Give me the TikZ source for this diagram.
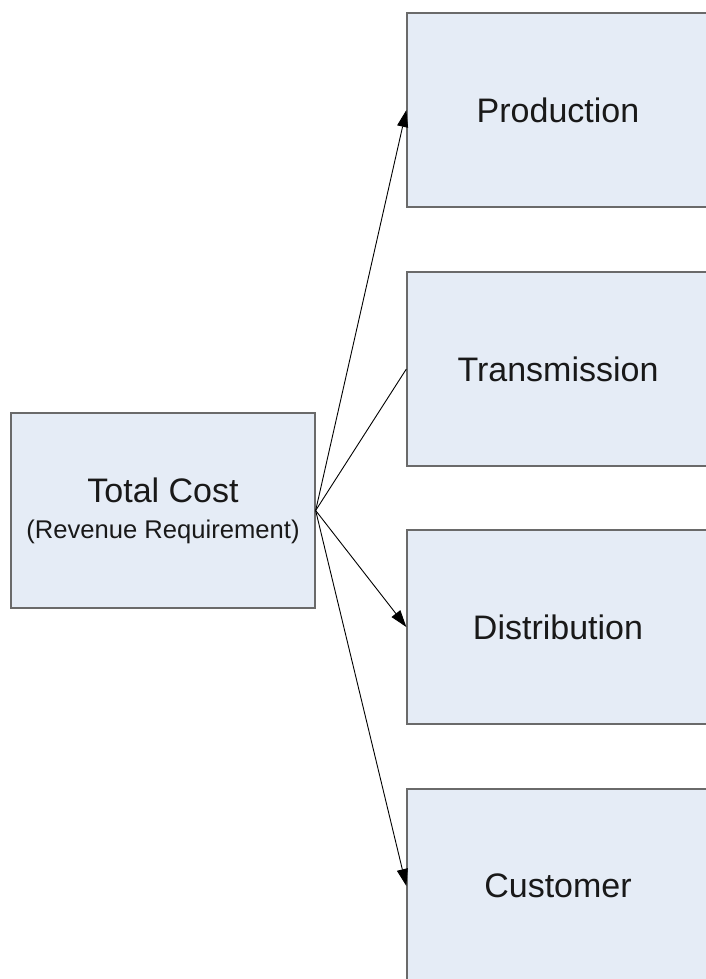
\documentclass[tikz,border=0pt]{standalone}
\usepackage{fontspec}
\setmainfont{Liberation Sans}
\usetikzlibrary{arrows.meta}
\definecolor{boxfill}{HTML}{E5ECF6}
\definecolor{boxline}{HTML}{6A6A6A}
\begin{document}
\begin{tikzpicture}[x=1pt,y=-1pt,
  block/.style={draw=boxline,line width=1.3pt,fill=boxfill,rectangle,
    minimum width=302pt,minimum height=194pt,inner sep=0pt,
    font=\fontsize{34}{40}\selectfont,text=black!90},
  link/.style={line width=0.9pt,black},
  tip/.style={-{Triangle[length=17pt,width=11pt]}}]
  \useasboundingbox (0,0) rectangle (706,979);
  % cost categories on the right
  \node[block] (prod)  at (558,110) {Production};
  \node[block] (trans) at (558,369) {Transmission};
  \node[block] (dist)  at (558,627) {Distribution};
  \node[block] (cust)  at (558,886) {Customer};
  % total cost box
  \node[block,minimum width=304pt,minimum height=195pt,align=center] (total) at (163,510.5)
    {Total Cost\\[-4pt]{\fontsize{25.6}{30}\selectfont (Revenue Requirement)}};
  % connectors
  \draw[link,tip] (total.east) -- (prod.west);
  \draw[link] (total.east) -- (trans.west);
  \draw[link,tip] (total.east) -- (dist.west);
  \draw[link,tip] (total.east) -- (cust.west);
\end{tikzpicture}
\end{document}
